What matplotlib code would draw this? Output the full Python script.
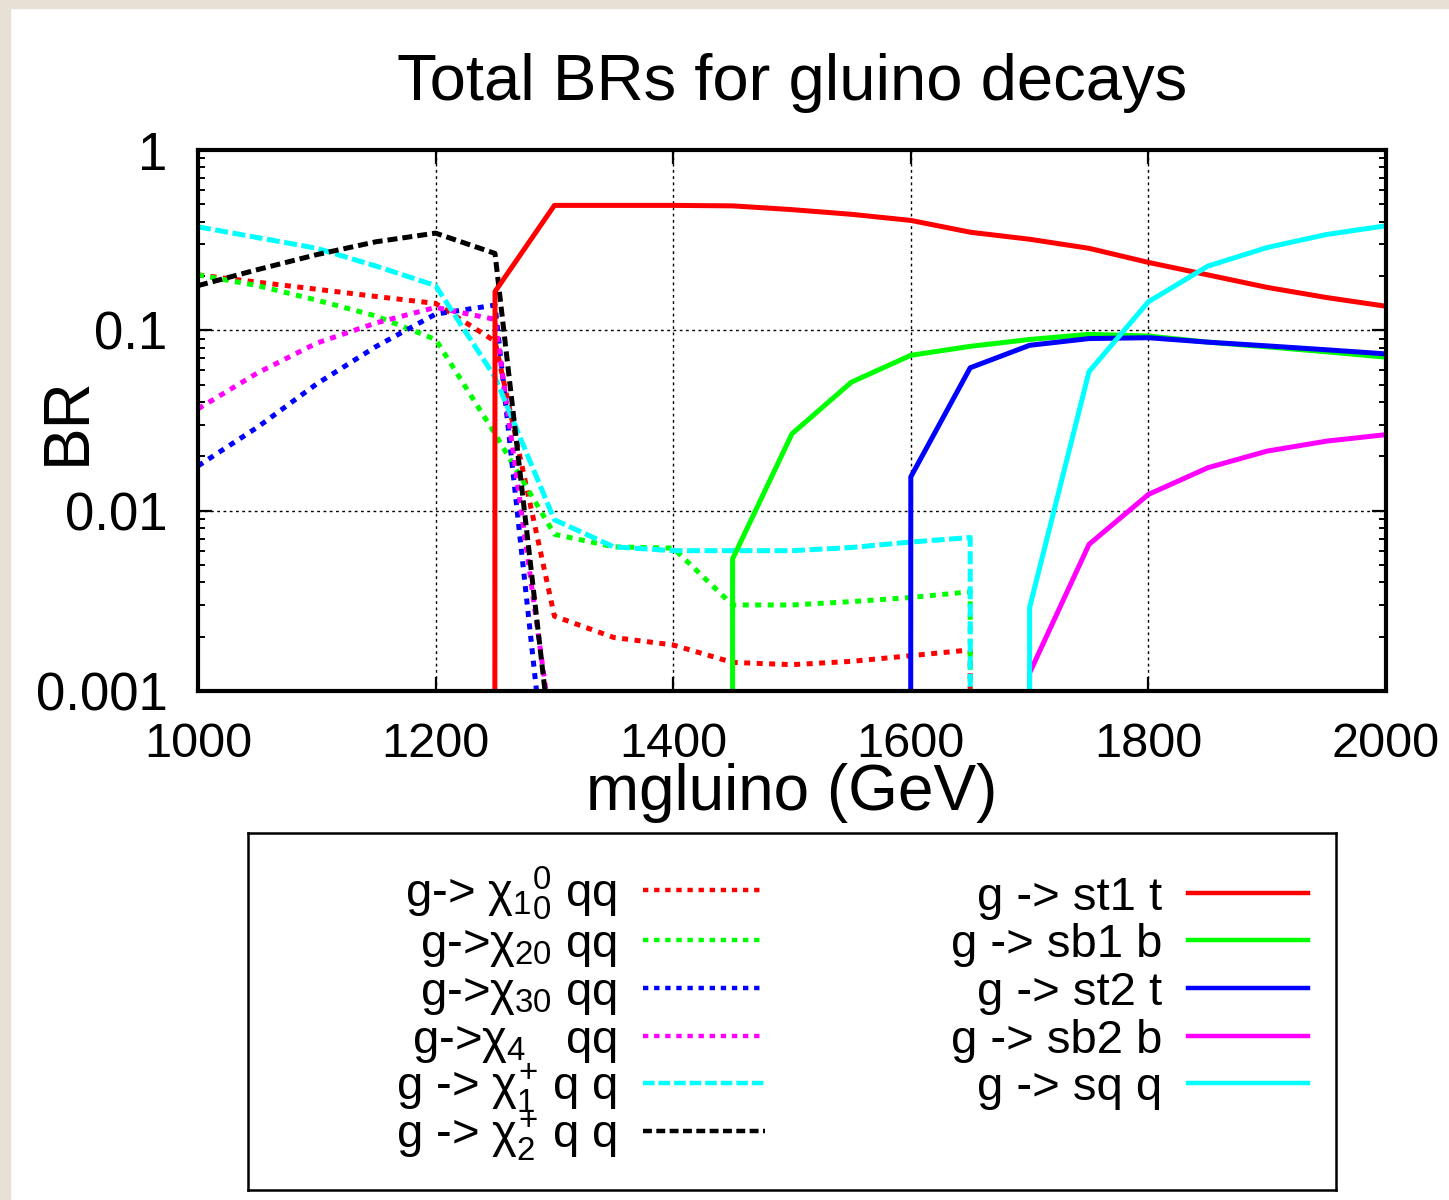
import matplotlib
matplotlib.use("Agg")
import matplotlib.pyplot as plt
from matplotlib.patches import Rectangle

plt.rcParams['font.family'] = ['Liberation Sans', 'DejaVu Sans']
plt.rcParams['mathtext.fontset'] = 'custom'
plt.rcParams['mathtext.rm'] = 'Liberation Sans'
plt.rcParams['mathtext.it'] = 'Liberation Sans'
plt.rcParams['mathtext.bf'] = 'Liberation Sans:bold'

# massa do gluino (GeV)
mgluino = [1000, 1050, 1100, 1150, 1200, 1250, 1300, 1350, 1400, 1450, 1500,
           1550, 1600, 1650, 1700, 1750, 1800, 1850, 1900, 1950, 2000]

# BRs (0 = canal fechado)
br_chi10 = [0.203, 0.185, 0.169, 0.154, 0.141, 0.087, 0.0026, 0.00198, 0.0018, 0.00144, 0.0014,
            0.00146, 0.00157, 0.00169, 0, 0, 0, 0, 0, 0, 0]
br_chi20 = [0.203, 0.177, 0.147, 0.12, 0.089, 0.0267, 0.0074, 0.0063, 0.0062, 0.0030, 0.0030,
            0.00313, 0.0033, 0.00355, 0, 0, 0, 0, 0, 0, 0]
br_chi30 = [0.0177, 0.029, 0.0505, 0.0814, 0.123, 0.138, 0.00012, 0, 0, 0, 0,
            0, 0, 0, 0, 0, 0, 0, 0, 0, 0]
br_chi40 = [0.0367, 0.058, 0.085, 0.11, 0.134, 0.115, 0.00046, 0, 0, 0, 0,
            0, 0, 0, 0, 0, 0, 0, 0, 0, 0]
br_cha1 = [0.375, 0.327, 0.285, 0.227, 0.177, 0.055, 0.0089, 0.0063, 0.0060, 0.0060, 0.0060,
           0.00625, 0.0067, 0.0071, 0, 0, 0, 0, 0, 0, 0]
br_cha2 = [0.177, 0.217, 0.263, 0.31, 0.346, 0.267, 0.00035, 0, 0, 0, 0,
           0, 0, 0, 0, 0, 0, 0, 0, 0, 0]
br_st1 = [0, 0, 0, 0, 0, 0.164, 0.493, 0.493, 0.493, 0.49, 0.467,
          0.44, 0.407, 0.35, 0.32, 0.285, 0.238, 0.203, 0.173, 0.152, 0.136]
br_sb1 = [0, 0, 0, 0, 0, 0, 0, 0, 0, 0.0054, 0.0267,
          0.0516, 0.0727, 0.0815, 0.089, 0.095, 0.093, 0.086, 0.081, 0.076, 0.071]
br_st2 = [0, 0, 0, 0, 0, 0, 0, 0, 0, 0, 0,
          0, 0.0154, 0.062, 0.0826, 0.09, 0.091, 0.086, 0.082, 0.078, 0.074]
br_sb2 = [0, 0, 0, 0, 0, 0, 0, 0, 0, 0, 0,
          0, 0, 0, 0.00126, 0.0065, 0.0123, 0.0173, 0.0214, 0.0243, 0.0264]
br_sq = [0, 0, 0, 0, 0, 0, 0, 0, 0, 0, 0,
         0, 0, 0, 0.0029, 0.059, 0.144, 0.227, 0.288, 0.34, 0.38]

labels_esq = [r"g-> $\chi_{1}{}_{0}^{0}$ qq", r"g->$\chi_{20}$ qq", r"g->$\chi_{30}$ qq",
              r"g->$\chi_{4}$   qq", r"g -> $\chi_{1}^{+}$ q q", r"g -> $\chi_{2}^{+}$ q q"]
labels_dir = ["g -> st1 t", "g -> sb1 b", "g -> st2 t", "g -> sb2 b", "g -> sq q"]

xticks = [1000, 1200, 1400, 1600, 1800, 2000]
yticks = [0.001, 0.01, 0.1, 1]
ytick_labels = ["0.001", "0.01", "0.1", "1"]

pontilhado = (0, (1.2, 1.3))
series_esq = [
    (br_chi10, '#ff0000', pontilhado),
    (br_chi20, '#00ff00', pontilhado),
    (br_chi30, '#0000ff', pontilhado),
    (br_chi40, '#ff00ff', pontilhado),
    (br_cha1, '#00ffff', (0, (2.6, 0.9))),
    (br_cha2, '#000000', (0, (2.0, 1.0))),
]
series_dir = [
    (br_st1, '#ff0000', '-'),
    (br_sb1, '#00ff00', '-'),
    (br_st2, '#0000ff', '-'),
    (br_sb2, '#ff00ff', '-'),
    (br_sq, '#00ffff', '-'),
]

W, H = 1449, 1200
fig = plt.figure(figsize=(W / 100, H / 100), dpi=100)
fig.patches.append(Rectangle((0, 0), 10 / W, 1, transform=fig.transFigure,
                             color='#e6e0d5', zorder=0))
fig.patches.append(Rectangle((0, 1 - 8 / H), 1, 8 / H, transform=fig.transFigure,
                             color='#e6e0d5', zorder=0))

ax = fig.add_axes([198 / W, 1 - 691 / H, (1386 - 198) / W, (691 - 150) / H])
ax.set_yscale('log', nonpositive='clip')

for br, cor, estilo in series_esq + series_dir:
    ax.plot(mgluino, br, color=cor, linestyle=estilo, lw=3.6)

ax.set_xlim(1000, 2000)
ax.set_ylim(0.001, 1)
ax.set_xticks(xticks)
ax.set_yticks(yticks, labels=ytick_labels)
ax.tick_params(which='both', direction='in', top=True, right=True)
ax.tick_params(which='major', length=10, width=1.6)
ax.tick_params(which='minor', length=5, width=1.4)
ax.tick_params(axis='y', labelsize=38, pad=22)
ax.tick_params(axis='x', labelsize=35, pad=22)
ax.xaxis.set_minor_locator(matplotlib.ticker.NullLocator())
ax.grid(True, which='major', color='black', linestyle=(0, (2, 2.5)), lw=1.0)
for s in ax.spines.values():
    s.set_linewidth(3)

ax.set_xlabel("mgluino (GeV)", fontsize=46)
ax.xaxis.label.set_va('baseline')
ax.xaxis.set_label_coords(0.5, (691 - 810) / 541)
ax.set_ylabel("BR", fontsize=46)
ax.yaxis.label.set_va('center')
ax.yaxis.label.set_ha('center')
ax.yaxis.set_label_coords((68 - 198) / 1188, 0.5)

fig.text(792 / W, 1 - 100 / H, "Total BRs for gluino decays", fontsize=47,
         ha='center', va='baseline')

# legenda desenhada a mao (caixa em coordenadas de pixel)
leg = fig.add_axes([248 / W, 1 - 1190 / H, (1336 - 248) / W, (1190 - 833) / H])
leg.set_xlim(248, 1336)
leg.set_ylim(1190, 833)
leg.set_xticks([])
leg.set_yticks([])
for s in leg.spines.values():
    s.set_linewidth(1.8)

linhas_esq = [890, 940, 988, 1036, 1083, 1131]
linhas_dir = [893, 940, 988, 1036, 1083]
for (br, cor, estilo), label, y in zip(series_esq, labels_esq, linhas_esq):
    leg.plot([643, 765], [y, y], color=cor, linestyle=estilo, lw=3.2)
    leg.text(617, y + 17, label, fontsize=34, ha='right', va='baseline')
for (br, cor, estilo), label, y in zip(series_dir, labels_dir, linhas_dir):
    leg.plot([1188, 1308], [y, y], color=cor, linestyle=estilo, lw=3.2)
    leg.text(1162, y + 17, label, fontsize=34, ha='right', va='baseline')

fig.savefig("out.png", dpi=100)
